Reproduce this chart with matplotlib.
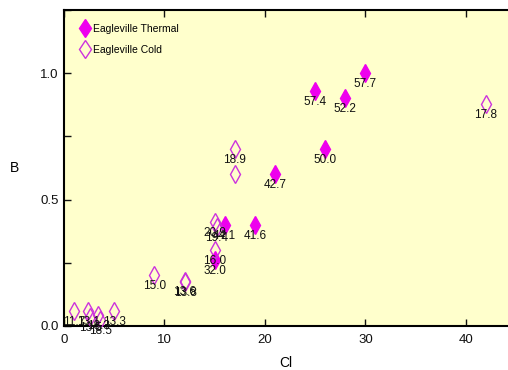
import matplotlib
matplotlib.use("Agg")
import matplotlib.pyplot as plt
from matplotlib.ticker import MultipleLocator, FixedLocator

plt.rcParams['font.family'] = ['Liberation Sans', 'DejaVu Sans']

# Eagleville Thermal (filled)
thermal_cl = [30.0, 25.0, 28.0, 26.0, 21.0, 19.0, 16.0, 15.0]
thermal_b = [1.00, 0.93, 0.90, 0.70, 0.60, 0.40, 0.40, 0.26]
thermal_lbl = ["57.7", "57.4", "52.2", "50.0", "42.7", "41.6", "44.1", "32.0"]

# Eagleville Cold (open)
cold_cl = [42.0, 17.0, 17.0, 15.0, 15.2, 15.0, 9.0, 12.0, 12.05,
           1.0, 2.4, 2.6, 3.4, 3.6, 5.0]
cold_b = [0.88, 0.70, 0.60, 0.41, 0.39, 0.30, 0.20, 0.178, 0.174,
          0.06, 0.06, 0.035, 0.045, 0.025, 0.06]
cold_lbl = ["17.8", "18.9", "", "20.9", "19.4", "16.0", "15.0", "13.6", "13.8",
            "11.7", "13.1", "13.5", "18.3", "18.5", "13.3"]

x_ticks = [0, 10, 20, 30, 40]
y_ticks = [0.0, 0.5, 1.0]

fill_col = '#ee00ee'
open_col = '#cc33dd'

fig = plt.figure(figsize=(5.08, 3.70), dpi=100)
ax = fig.add_axes([0.126, 0.119, 0.874, 0.854])
ax.set_facecolor('#ffffcc')

ax.plot(thermal_cl, thermal_b, linestyle='none', marker='d', ms=9,
        mfc=fill_col, mec=fill_col, mew=1.0, label='Eagleville Thermal', zorder=3)
ax.plot(cold_cl, cold_b, linestyle='none', marker='d', ms=9,
        mfc='none', mec=open_col, mew=1.0, label='Eagleville Cold', zorder=3)

for x, y, t in zip(thermal_cl, thermal_b, thermal_lbl):
    ax.annotate(t, (x, y), xytext=(0, -11), textcoords='offset pixels',
                ha='center', va='center', fontsize=8.5, color='#111111',
                annotation_clip=False, zorder=4)
for x, y, t in zip(cold_cl, cold_b, cold_lbl):
    if t:
        ax.annotate(t, (x, y), xytext=(0, -11), textcoords='offset pixels',
                    ha='center', va='center', fontsize=8.5, color='#111111',
                    annotation_clip=False, zorder=4)

ax.set_xlim(0, 44.2)
ax.set_ylim(0, 1.25)
ax.xaxis.set_major_locator(FixedLocator(x_ticks))
ax.yaxis.set_major_locator(FixedLocator(y_ticks))
ax.yaxis.set_minor_locator(MultipleLocator(0.25))
ax.set_yticklabels([f"{v:.1f}" for v in y_ticks])
ax.set_xticklabels([str(v) for v in x_ticks])
ax.tick_params(which='both', direction='in', length=5, width=1.0,
               top=True, right=False, labelsize=9.5, pad=4, colors='#111111')
ax.tick_params(axis='x', pad=6)
for s in ['left', 'bottom', 'top']:
    ax.spines[s].set_linewidth(1.5)
ax.spines['right'].set_visible(False)

ax.set_xlabel('Cl', fontsize=10, labelpad=7)
ax.set_ylabel('B', fontsize=10, rotation=0, labelpad=18, va='center')

leg = ax.legend(loc='upper left', bbox_to_anchor=(0.015, 0.985), frameon=False,
                fontsize=7.5, numpoints=1, handlelength=1.0, handletextpad=0.2,
                labelspacing=1.0, markerscale=1.05)

fig.savefig('out.png', dpi=100)
